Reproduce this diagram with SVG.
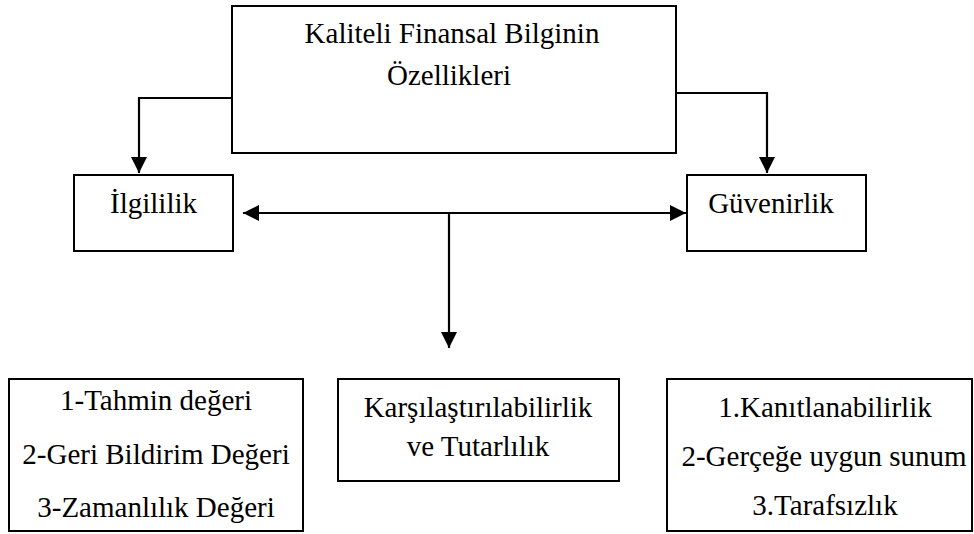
<svg xmlns="http://www.w3.org/2000/svg" width="974" height="534" viewBox="0 0 974 534">
<defs>
<style>
.box{fill:#fff;stroke:#000;stroke-width:2}
.c{fill:none;stroke:#000;stroke-width:2.2}
</style>
<marker id="ah" viewBox="0 0 16 16" refX="16" refY="8" markerWidth="16" markerHeight="16" markerUnits="userSpaceOnUse" orient="auto-start-reverse">
<path d="M0,0 L16,8 L0,16 Z" fill="#000"/>
</marker>
</defs>
<rect width="974" height="534" fill="#fff"/>
<g id="connectors">
<path class="c" d="M232,98 H139 V173" marker-end="url(#ah)"/>
<path class="c" d="M676,93 H767 V173" marker-end="url(#ah)"/>
<path class="c" d="M243,213 H686" marker-start="url(#ah)" marker-end="url(#ah)"/>
<path class="c" d="M449,213 V348" marker-end="url(#ah)"/>
</g>
<g font-family="Liberation Serif, Tinos, Times New Roman, serif" font-size="29" text-anchor="middle" fill="#000">
<g id="root">
<rect class="box" x="232" y="6" width="444" height="147"/>
<text x="452" y="43">Kaliteli Finansal Bilginin</text>
<text x="449" y="85">Özellikleri</text>
</g>
<g id="ilgililik">
<rect class="box" x="74" y="175" width="159" height="76"/>
<text x="153.5" y="213">İlgililik</text>
</g>
<g id="guvenirlik">
<rect class="box" x="687" y="175" width="179" height="76"/>
<text x="771" y="213">Güvenirlik</text>
</g>
<g id="ilgililik-items">
<rect class="box" x="9" y="379" width="294" height="152"/>
<text x="156" y="410">1-Tahmin değeri</text>
<text x="156" y="464">2-Geri Bildirim Değeri</text>
<text x="156" y="517">3-Zamanlılık Değeri</text>
</g>
<g id="karsilastirma">
<rect class="box" x="338" y="379" width="281" height="102"/>
<text x="478" y="417">Karşılaştırılabilirlik</text>
<text x="478" y="456">ve Tutarlılık</text>
</g>
<g id="guvenirlik-items">
<rect class="box" x="667" y="379" width="305" height="152"/>
<text x="825" y="417">1.Kanıtlanabilirlik</text>
<text x="824" y="466">2-Gerçeğe uygun sunum</text>
<text x="825" y="515">3.Tarafsızlık</text>
</g>
</g>
</svg>
